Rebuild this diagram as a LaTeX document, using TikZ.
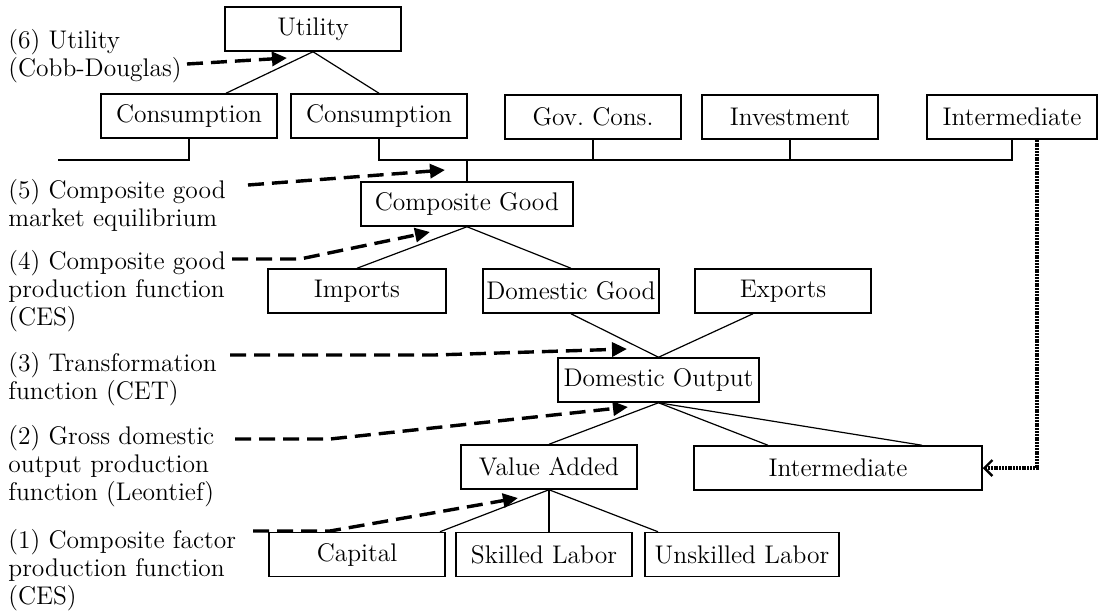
\documentclass[tikz,border=0pt]{standalone}
\usetikzlibrary{arrows.meta,calc}

\begin{document}
\begin{tikzpicture}[x=0.5pt,y=-0.5pt,
    font=\fontsize{12.75}{14}\selectfont,
    box/.style={draw,line width=0.75pt,minimum width=88pt,minimum height=22pt,inner sep=0pt},
    link/.style={line width=0.6pt},
    eqn/.style={anchor=north west,align=left,inner sep=0pt},
    hint/.style={line width=1.7pt,dash pattern=on 8pt off 4pt,-{Triangle[length=7.5pt,width=7pt]}},
    feed/.style={line width=1.6pt,dash pattern=on 1pt off 0.4pt,-{Straight Barb[length=4pt,width=8pt,line width=1.2pt]}}]
  \useasboundingbox (0,0) rectangle (1100,612);

  % demand side
  \node[box] (util) at (313,29) {Utility};
  \node[box] (cons1) at (189,116) {Consumption};
  \node[box] (cons2) at (379,116) {Consumption};
  \node[box] (gov) at (593,117) {Gov.\ Cons.};
  \node[box] (inv) at (790,117) {Investment};
  \node[box,minimum width=85pt] (intT) at (1012,117) {Intermediate};

  % goods
  \node[box,minimum width=106pt] (comp) at (467,204) {Composite Good};
  \node[box,minimum width=89pt] (imp) at (357,291) {Imports};
  \node[box] (domg) at (571,291) {Domestic Good};
  \node[box] (exp) at (783,291) {Exports};
  \node[box,minimum width=100.5pt] (dout) at (658.5,380) {Domestic Output};

  % inputs
  \node[box] (va) at (549,467) {Value Added};
  \node[box,minimum width=144pt] (int2) at (838,468) {Intermediate};
  \node[box] (cap) at (357,554.5) {Capital};
  \node[box] (skl) at (544,554.5) {Skilled Labor};
  \node[box,minimum width=97pt] (unsk) at (742,554.5) {Unskilled Labor};

  % equation labels
  \node[eqn] (l6) at (8,29) {(6) Utility\\(Cobb-Douglas)};
  \node[eqn] (l5) at (8,179) {(5) Composite good\\market equilibrium};
  \node[eqn] (l4) at (8,250) {(4) Composite good\\production function\\(CES)};
  \node[eqn] (l3) at (8,352) {(3) Transformation\\function (CET)};
  \node[eqn] (l2) at (8,425) {(2) Gross domestic\\output production\\function (Leontief)};
  \node[eqn] (l1) at (8,529) {(1) Composite factor\\production function\\(CES)};

  % tree lines
  \coordinate (cut) at (58,160);
  \draw[link] (util.south) -- ($(cons1.north)+(37,0)$);
  \draw[link] (util.south) -- (cons2.north);
  \draw[link] (cons1.south) |- (cut);
  \draw[link] (cons2.south) |- (intT.south |- cut) -- (intT.south);
  \draw[link] (gov.south) -- (gov.south |- cut);
  \draw[link] (inv.south) -- (inv.south |- cut);
  \draw[link] (comp.north) -- (comp.north |- cut);
  \draw[link] (comp.south) -- (imp.north);
  \draw[link] (comp.south) -- (domg.north);
  \draw[link] (domg.south) -- (dout.north);
  \draw[link] ($(exp.south)+(-30,0)$) -- (dout.north);
  \draw[link] (dout.south) -- (va.north);
  \draw[link] (dout.south) -- ($(int2.north)+(-70,0)$);
  \draw[link] (dout.south) -- ($(int2.north)+(84,0)$);
  \draw[link] (va.south) -- ($(cap.north)+(83,0)$);
  \draw[link] (va.south) -- (va.south |- skl.north);
  \draw[link] (va.south) -- ($(unsk.north)+(-84,0)$);

  % intermediate feedback
  \draw[feed] ($(intT.south)+(25,0)$) |- (int2.east);

  % pointers from the labels
  \coordinate (s6) at (187,64);  \coordinate (t6) at (287,58);
  \coordinate (s5) at (248,185); \coordinate (t5) at (445,170);
  \coordinate (s4) at (232,259); \coordinate (t4) at (430,232);
  \coordinate (s3) at (230,355); \coordinate (t3) at (627,349);
  \coordinate (s2) at (235,439); \coordinate (t2) at (628,407);
  \coordinate (s1) at (253,531); \coordinate (t1) at (518,498);
  \draw[hint] (s6) -- (t6);
  \draw[hint] (s5) -- (t5);
  \draw[hint] (s4) -- ++(68,0) -- (t4);
  \draw[hint] (s3) -- ++(204,0) -- (t3);
  \draw[hint] (s2) -- ++(95,0) -- (t2);
  \draw[hint] (s1) -- ++(77,0) -- (t1);
\end{tikzpicture}
\end{document}
